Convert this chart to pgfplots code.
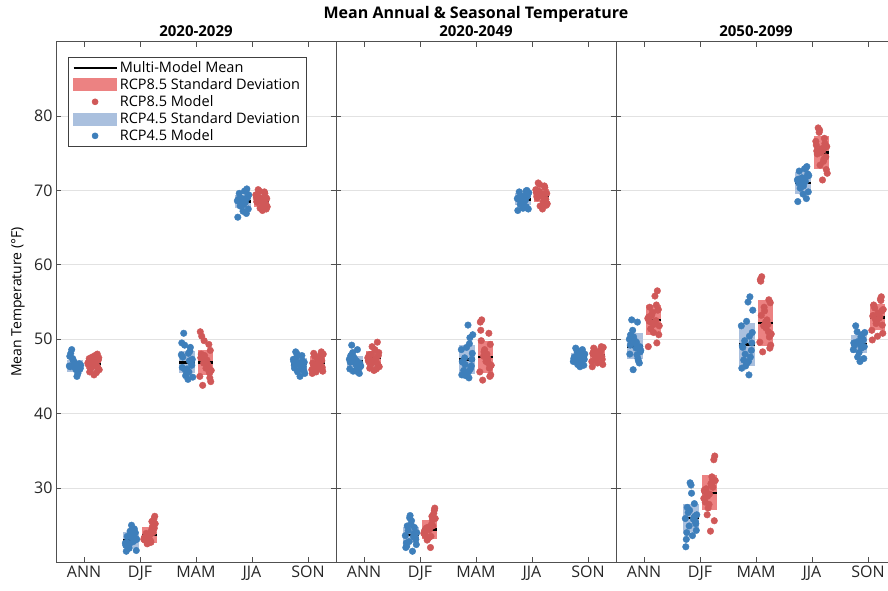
\documentclass[border=0pt]{standalone}
\usepackage{pgfplots}
\pgfplotsset{compat=1.18}
\usepackage{pgfplotstable}
\usepackage{fontspec}
\setmainfont{Open Sans}
\definecolor{dotblue}{RGB}{62,127,187}
\definecolor{dotred}{RGB}{208,88,88}
\definecolor{boxblue}{RGB}{170,192,222}
\definecolor{boxred}{RGB}{236,130,130}
\definecolor{gridgray}{RGB}{226,226,226}
\definecolor{framegray}{RGB}{80,80,80}

% ---------- model values (one row per model) ----------
\pgfplotstableread{
j k ANN DJF MAM JJA SON
-0.10 0.05 46.3 22.8 46.2 68.4 46.5
0.06 -0.08 45.4 23.5 48.4 69.6 47.8
-0.03 0.11 47.0 21.6 45.1 67.5 45.6
0.11 -0.02 46.1 24.2 47.3 68.9 46.9
-0.07 0.08 48.6 23.0 50.8 70.2 48.3
0.02 -0.11 45.9 22.3 44.6 66.4 45.0
0.09 0.01 46.7 25.0 46.8 68.1 46.3
-0.12 0.10 46.4 23.2 47.9 69.2 47.3
0.04 -0.06 45.0 22.0 45.6 67.9 46.0
-0.05 0.03 47.4 23.8 49.2 69.9 47.6
0.00 -0.12 46.2 22.6 46.0 68.6 46.7
0.12 0.07 46.5 24.5 44.9 66.9 45.4
-0.09 -0.04 48.1 21.9 47.6 68.0 46.1
0.07 0.12 45.7 23.1 48.9 69.4 47.1
-0.01 -0.09 46.8 22.7 45.3 68.7 46.8
0.10 0.00 46.0 23.4 46.5 67.2 45.8
-0.11 0.09 47.7 24.0 49.5 69.0 47.0
0.05 -0.03 46.4 22.5 47.1 68.3 46.4
-0.04 0.06 47.2 23.6 45.9 70.0 48.0
0.03 -0.10 46.6 21.5 48.1 68.8 46.6
}\pOneB
\pgfplotstableread{
j k ANN DJF MAM JJA SON
0.05 -0.10 46.9 23.4 46.6 68.5 47.0
-0.08 0.06 45.6 24.8 50.4 69.8 48.1
0.11 -0.03 47.5 22.6 44.3 67.6 45.7
-0.02 0.11 46.3 26.2 47.8 68.9 46.6
0.08 -0.07 48.0 23.9 45.5 70.1 48.3
-0.11 0.02 46.6 22.9 51.0 67.3 45.4
0.01 0.09 45.2 25.8 46.1 68.2 47.3
0.10 -0.12 47.2 23.1 48.5 69.4 46.2
-0.06 0.04 46.0 24.3 43.8 68.0 47.7
0.03 -0.05 47.8 22.5 47.2 69.1 46.9
-0.12 0.00 46.8 23.6 45.0 68.7 45.9
0.07 0.12 46.4 25.2 49.3 67.8 47.5
-0.04 -0.09 47.0 23.0 46.8 68.4 46.4
0.12 0.07 45.9 24.0 45.8 69.6 48.0
-0.09 -0.01 47.4 22.8 48.0 68.6 46.7
0.00 0.10 46.7 24.6 47.0 67.5 46.0
0.09 -0.11 46.1 23.3 44.8 69.0 47.1
-0.03 0.05 47.6 25.5 49.8 68.3 45.6
0.06 -0.04 45.5 23.7 46.3 69.9 47.9
-0.10 0.03 46.9 22.7 47.5 68.8 46.8
}\pOneR
\pgfplotstableread{
j k ANN DJF MAM JJA SON
-0.10 0.05 46.9 23.5 47.0 68.7 47.6
0.06 -0.08 45.6 24.9 50.2 69.8 48.5
-0.03 0.11 47.6 22.4 45.1 67.5 46.6
0.11 -0.02 46.3 26.3 48.1 69.1 47.3
-0.07 0.08 49.2 23.8 45.8 70.0 48.8
0.02 -0.11 46.6 22.0 51.9 67.3 46.3
0.09 0.01 45.4 25.6 46.4 68.4 47.9
-0.12 0.10 47.3 23.1 48.6 69.5 47.0
0.04 -0.06 46.1 24.3 44.8 68.1 48.2
-0.05 0.03 48.2 21.5 47.5 69.3 47.5
0.00 -0.12 47.0 23.6 45.4 68.9 46.8
0.12 0.07 46.4 24.7 50.6 67.8 48.0
-0.09 -0.04 47.8 22.8 46.9 68.5 47.2
0.07 0.12 45.9 24.0 46.0 69.7 48.6
-0.01 -0.09 47.4 22.2 48.9 68.8 47.7
0.10 0.00 46.8 25.1 47.3 67.6 46.5
-0.11 0.09 46.0 23.3 45.2 69.2 47.4
0.05 -0.03 48.6 26.0 49.4 68.3 47.1
-0.04 0.06 45.7 23.9 46.6 69.9 48.3
0.03 -0.10 47.1 22.6 45.6 69.0 47.8
}\pTwoB
\pgfplotstableread{
j k ANN DJF MAM JJA SON
0.05 -0.10 47.4 24.3 47.4 69.2 47.9
-0.08 0.06 46.1 25.7 52.6 70.6 48.8
0.11 -0.03 48.2 23.2 45.2 67.9 46.6
-0.02 0.11 46.9 27.3 48.6 69.6 47.6
0.08 -0.07 49.6 24.6 46.1 71.0 49.0
-0.11 0.02 47.1 22.0 52.3 67.5 46.3
0.01 0.09 45.8 26.6 47.0 68.8 48.2
0.10 -0.12 47.8 23.9 49.3 70.1 47.3
-0.06 0.04 46.5 25.1 44.5 68.4 48.6
0.03 -0.05 48.6 23.0 48.0 69.9 47.8
-0.12 0.00 47.5 24.4 45.6 69.4 47.0
0.07 0.12 46.8 25.9 50.8 68.2 48.5
-0.04 -0.09 48.0 23.6 47.7 69.0 47.5
0.12 0.07 46.3 24.9 46.5 70.4 48.9
-0.09 -0.01 47.9 23.4 49.8 69.3 48.0
0.00 0.10 47.2 27.0 47.9 68.0 46.8
0.09 -0.11 46.6 24.1 45.0 69.7 47.7
-0.03 0.05 49.0 26.2 48.3 68.6 47.2
0.06 -0.04 46.0 24.7 46.8 70.8 48.4
-0.10 0.03 47.6 23.5 51.2 69.5 48.1
}\pTwoR
\pgfplotstableread{
j k ANN DJF MAM JJA SON
-0.10 0.05 49.2 25.8 49.1 71.2 49.4
0.06 -0.08 47.4 27.4 55.7 72.6 50.6
-0.03 0.11 50.3 24.3 46.4 69.8 47.6
0.11 -0.02 48.3 30.7 50.9 71.7 49.0
-0.07 0.08 52.6 26.2 47.2 73.2 51.8
0.02 -0.11 48.8 22.1 55.0 68.5 47.0
0.09 0.01 46.8 29.3 48.5 70.6 49.9
-0.12 0.10 50.0 25.2 51.8 72.2 48.6
0.04 -0.06 47.9 26.7 45.2 70.3 50.3
-0.05 0.03 51.2 23.6 49.8 72.9 49.6
0.00 -0.12 49.5 25.9 46.8 71.4 48.2
0.12 0.07 48.5 27.9 53.9 68.9 50.9
-0.09 -0.04 50.6 24.9 48.9 70.9 49.2
0.07 0.12 47.1 26.4 47.6 72.0 50.1
-0.01 -0.09 49.8 24.0 52.4 71.0 49.7
0.10 0.00 49.0 30.4 49.5 69.5 47.4
-0.11 0.09 48.0 25.5 46.1 71.9 49.5
0.05 -0.03 52.3 27.0 50.4 70.5 48.8
-0.04 0.06 45.9 26.0 48.0 73.0 51.0
0.03 -0.10 49.6 23.1 47.0 71.5 49.3
}\pThreeB
\pgfplotstableread{
j k ANN DJF MAM JJA SON
0.05 -0.10 52.5 29.5 52.0 75.3 53.0
-0.08 0.06 54.3 31.2 58.4 77.0 54.6
0.11 -0.03 50.6 27.3 49.2 73.4 50.8
-0.02 0.11 53.6 34.3 53.8 75.9 52.4
0.08 -0.07 56.5 29.9 50.3 78.4 55.7
-0.11 0.02 49.0 24.2 58.0 71.4 49.9
0.01 0.09 52.0 33.8 51.5 74.5 53.5
0.10 -0.12 54.0 28.6 54.9 76.6 51.9
-0.06 0.04 51.4 30.4 48.3 73.9 54.2
0.03 -0.05 55.8 26.4 52.6 77.8 52.8
-0.12 0.00 52.8 29.2 49.6 75.6 51.2
0.07 0.12 49.5 31.0 55.3 72.3 55.2
-0.04 -0.09 53.2 28.1 51.8 74.9 52.6
0.12 0.07 51.8 30.1 50.7 76.3 54.0
-0.09 -0.01 52.4 27.8 53.2 75.1 53.2
0.00 0.10 50.9 25.6 52.3 72.8 50.4
0.09 -0.11 53.9 29.7 48.8 76.1 53.8
-0.03 0.05 52.2 31.5 54.3 74.2 52.1
0.06 -0.04 54.6 28.9 51.0 78.1 55.4
-0.10 0.03 53.0 30.6 57.8 75.4 53.1
}\pThreeR

% ---------- multi-model mean and standard deviation ----------
\pgfplotstableread{
c bm bs rm rs
1 46.4 0.8 46.7 0.7
2 23.0 1.1 23.7 1.1
3 46.9 1.5 46.9 1.7
4 68.5 0.9 68.6 0.8
5 46.7 0.8 46.9 0.8
}\sOne
\pgfplotstableread{
c bm bs rm rs
1 47.0 0.8 47.5 0.9
2 23.7 1.1 24.4 1.3
3 47.3 1.95 47.6 2.2
4 68.8 0.8 69.3 0.9
5 47.6 0.6 47.9 0.7
}\sTwo
\pgfplotstableread{
c bm bs rm rs
1 49.05 1.75 52.6 2.0
2 26.0 1.9 29.35 2.35
3 49.3 2.9 52.2 3.1
4 71.0 1.45 75.1 2.2
5 49.35 1.25 52.95 1.75
}\sThree

\newcommand{\sdboxes}[1]{%
 \addplot[forget plot, draw=none, mark=none, error bars/.cd, y dir=both, y explicit, error mark=none,
   error bar style={draw=boxblue, line width=15.7pt}] table[x expr=\thisrow{c}-0.16, y=bm, y error=bs] {#1};
 \addplot[forget plot, draw=none, mark=none, error bars/.cd, y dir=both, y explicit, error mark=none,
   error bar style={draw=boxred, line width=15.7pt}] table[x expr=\thisrow{c}+0.17, y=rm, y error=rs] {#1};
 \addplot[forget plot, draw=none, mark=none, error bars/.cd, x dir=both, x fixed=0.14, error mark=none,
   error bar style={draw=black, line width=2.5pt}] table[x expr=\thisrow{c}-0.16, y=bm] {#1};
 \addplot[forget plot, draw=none, mark=none, error bars/.cd, x dir=both, x fixed=0.14, error mark=none,
   error bar style={draw=black, line width=2.5pt}] table[x expr=\thisrow{c}+0.17, y=rm] {#1};
}
\newcommand{\modeldots}[3]{% table, offset, colour
 \addplot[forget plot, only marks, mark=*, mark size=3.3pt, mark options={draw=#3, fill=#3}] table[x expr=1+#2+0.85*\thisrow{j}, y=ANN] {#1};
 \addplot[forget plot, only marks, mark=*, mark size=3.3pt, mark options={draw=#3, fill=#3}] table[x expr=2+#2+0.85*\thisrow{k}, y=DJF] {#1};
 \addplot[forget plot, only marks, mark=*, mark size=3.3pt, mark options={draw=#3, fill=#3}] table[x expr=3+#2+0.85*\thisrow{j}, y=MAM] {#1};
 \addplot[forget plot, only marks, mark=*, mark size=3.3pt, mark options={draw=#3, fill=#3}] table[x expr=4+#2+0.85*\thisrow{k}, y=JJA] {#1};
 \addplot[forget plot, only marks, mark=*, mark size=3.3pt, mark options={draw=#3, fill=#3}] table[x expr=5+#2+0.85*\thisrow{j}, y=SON] {#1};
}

\pgfplotsset{
 panel/.style={
   scale only axis, width=280pt, height=520.8pt, anchor=south west,
   xmin=0.5, xmax=5.5, ymin=20, ymax=90,
   xtick={1,2,3,4,5}, xticklabels={ANN,DJF,MAM,JJA,SON},
   ytick={30,40,50,60,70,80},
   ymajorgrids, major grid style={draw=gridgray, line width=0.8pt},
   axis line style={draw=framegray, line width=0.8pt},
   major tick style={draw=framegray, line width=0.8pt},
   major tick length=5pt, tick align=inside,
   ticklabel style={font=\fontsize{16}{19}\selectfont, text=black!85},
   /pgf/number format/assume math mode=true,
   title style={at={(0.5,1)}, anchor=base, yshift=-1pt, font=\bfseries\fontsize{15}{18}\selectfont},
   clip=false,
 }
}

\begin{document}
\begin{tikzpicture}
\path[use as bounding box, clip] (0pt,0pt) rectangle (888pt,590pt);

\begin{axis}[panel, at={(56pt,27.6pt)}, title={2020-2029},
  ylabel={Mean Temperature (°F)},
  ylabel style={at={(axis description cs:-0.136,0.5)}, anchor=center, font=\fontsize{14}{16}\selectfont},
  legend style={at={(0.043,0.971)}, anchor=north west, draw=black!75, line width=0.6pt,
     font=\fontsize{14.5}{17}\selectfont, row sep=0.5pt, inner xsep=4pt, inner ysep=2.5pt},
  legend cell align=left]
\addlegendimage{legend image code/.code={\draw[black, line width=2.5pt] (0pt,0pt) -- (43pt,0pt);}}
\addlegendentry{Multi-Model Mean}
\addlegendimage{legend image code/.code={\fill[boxred] (0pt,-6pt) rectangle (43pt,6pt);}}
\addlegendentry{RCP8.5 Standard Deviation}
\addlegendimage{legend image code/.code={\fill[dotred] (21.5pt,0pt) circle (3pt);}}
\addlegendentry{RCP8.5 Model}
\addlegendimage{legend image code/.code={\fill[boxblue] (0pt,-6pt) rectangle (43pt,6pt);}}
\addlegendentry{RCP4.5 Standard Deviation}
\addlegendimage{legend image code/.code={\fill[dotblue] (21.5pt,0pt) circle (3pt);}}
\addlegendentry{RCP4.5 Model}
\sdboxes{\sOne}
\modeldots{\pOneB}{-0.16}{dotblue}
\modeldots{\pOneR}{0.17}{dotred}
\end{axis}

\begin{axis}[panel, at={(336pt,27.6pt)}, title={2020-2049}, yticklabels={}]
\sdboxes{\sTwo}
\modeldots{\pTwoB}{-0.16}{dotblue}
\modeldots{\pTwoR}{0.17}{dotred}
\end{axis}

\begin{axis}[panel, at={(616pt,27.6pt)}, title={2050-2099}, yticklabels={},
  separate axis lines, y axis line style={draw=none}]
\sdboxes{\sThree}
\modeldots{\pThreeB}{-0.16}{dotblue}
\modeldots{\pThreeR}{0.17}{dotred}
\end{axis}

\node[anchor=base, font=\bfseries\fontsize{16}{19}\selectfont] at (476pt,571pt) {Mean Annual \& Seasonal Temperature};
\end{tikzpicture}
\end{document}
